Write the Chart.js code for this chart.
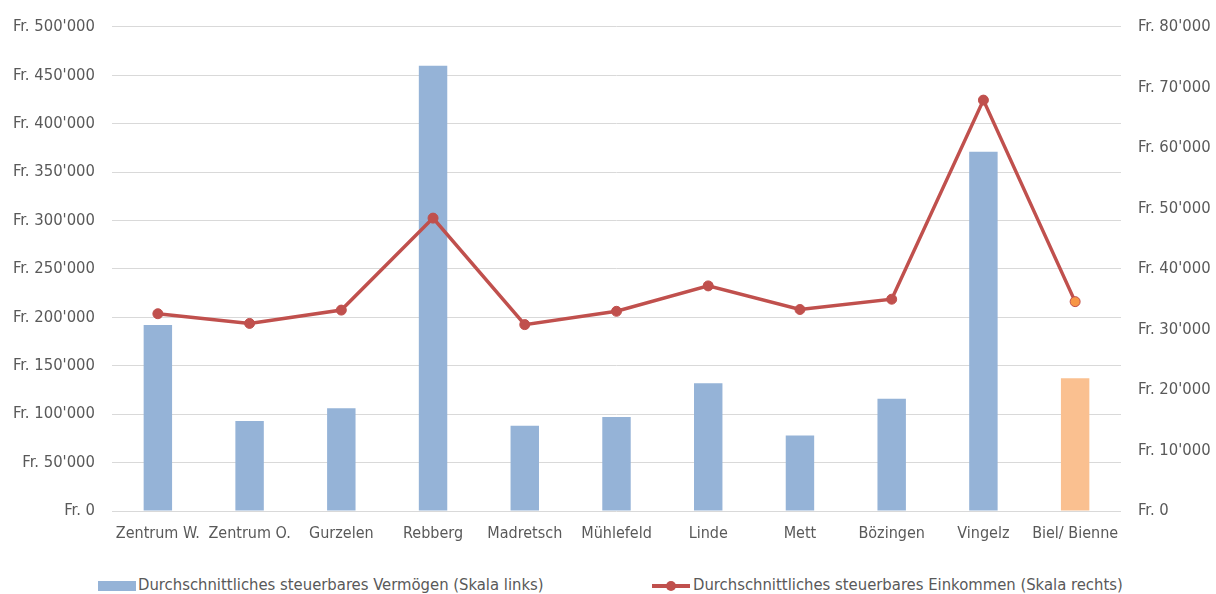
<!DOCTYPE html>
<html>
<head>
<meta charset="utf-8">
<script src="https://cdn.jsdelivr.net/npm/chart.js@4"></script>
<style>
	body { margin: 0; background: #fff; overflow: hidden; }
	#wrap { position: relative; width: 1216px; height: 594px; }
	#chart { position: absolute; left: 0; top: 0; }
	.legend { position: absolute; top: 575px; font-family: "Liberation Sans Narrow", "DejaVu Sans Condensed", sans-serif; font-size: 16.5px; color: #595959; white-space: nowrap; }
	.legend span.box { display: inline-block; vertical-align: middle; }
</style>
</head>
<body>
<div id="wrap">
	<canvas id="chart" width="1216" height="560"></canvas>
	<div class="legend" style="left:98px"><span class="box" style="width:38px;height:10px;background:#95B3D7;margin-right:2px"></span>Durchschnittliches steuerbares Vermögen (Skala links)</div>
	<div class="legend" style="left:652px"><span class="box" style="width:38px;height:4px;background:#C0504D;margin-right:3px;position:relative"><span style="position:absolute;left:14px;top:-3px;width:10px;height:10px;border-radius:5px;background:#C0504D"></span></span>Durchschnittliches steuerbares Einkommen (Skala rechts)</div>
</div>
<script>
var categories = ["Zentrum W.", "Zentrum O.", "Gurzelen", "Rebberg", "Madretsch", "Mühlefeld", "Linde", "Mett", "Bözingen", "Vingelz", "Biel/ Bienne"];
var vermoegen = [192000, 93000, 106000, 460000, 88000, 97000, 132000, 78000, 116000, 371000, 137000];
var einkommen = [32600, 31000, 33200, 48400, 30800, 33000, 37200, 33300, 35000, 67900, 34600];

function fr(v) {
	// Swiss thousands separator
	return "Fr. " + String(v).replace(/\B(?=(\d{3})+(?!\d))/g, "'");
}

var barColors = categories.map(function(c, i) { return i === categories.length - 1 ? "#FAC090" : "#95B3D7"; });
var pointColors = categories.map(function(c, i) { return i === categories.length - 1 ? "#F79646" : "#C0504D"; });

Chart.defaults.color = "#595959";
Chart.defaults.font = { family: '"Liberation Sans Narrow", "DejaVu Sans Condensed", sans-serif', size: 16.5 };

new Chart(document.getElementById("chart").getContext("2d"), {
	type: 'bar',
	data: {
		labels: categories,
		datasets: [{
			type: 'line',
			label: 'Durchschnittliches steuerbares Einkommen (Skala rechts)',
			data: einkommen,
			yAxisID: 'y1',
			borderColor: "#C0504D",
			borderWidth: 3.5,
			tension: 0,
			pointRadius: 5,
			pointBackgroundColor: pointColors,
			pointBorderColor: "#C0504D",
			pointBorderWidth: 1,
			order: 0
		}, {
			label: 'Durchschnittliches steuerbares Vermögen (Skala links)',
			data: vermoegen,
			yAxisID: 'y',
			backgroundColor: barColors,
			barPercentage: 0.31,
			categoryPercentage: 1,
			order: 1
		}]
	},
	options: {
		responsive: false,
		animation: false,
		layout: { padding: { top: 15, bottom: 0, left: 0, right: 0 } },
		plugins: { legend: { display: false }, tooltip: { enabled: false } },
		scales: {
			x: {
				grid: { display: false },
				border: { display: false },
				ticks: { padding: 5, maxRotation: 0, autoSkip: false, font: { size: 16 } },
				afterFit: function(s) { s.height = 49; }
			},
			y: {
				position: 'left',
				min: 0, max: 500000,
				ticks: { stepSize: 50000, padding: 17, callback: function(v) { return fr(v); } },
				grid: { color: "#d9d9d9", drawTicks: false },
				border: { display: false },
				afterFit: function(s) { s.width = 112; }
			},
			y1: {
				position: 'right',
				min: 0, max: 80000,
				ticks: { stepSize: 10000, padding: 9, callback: function(v) { return fr(v); } },
				grid: { display: false },
				border: { display: false },
				afterFit: function(s) { s.width = 95; }
			}
		}
	}
});
</script>
</body>
</html>
